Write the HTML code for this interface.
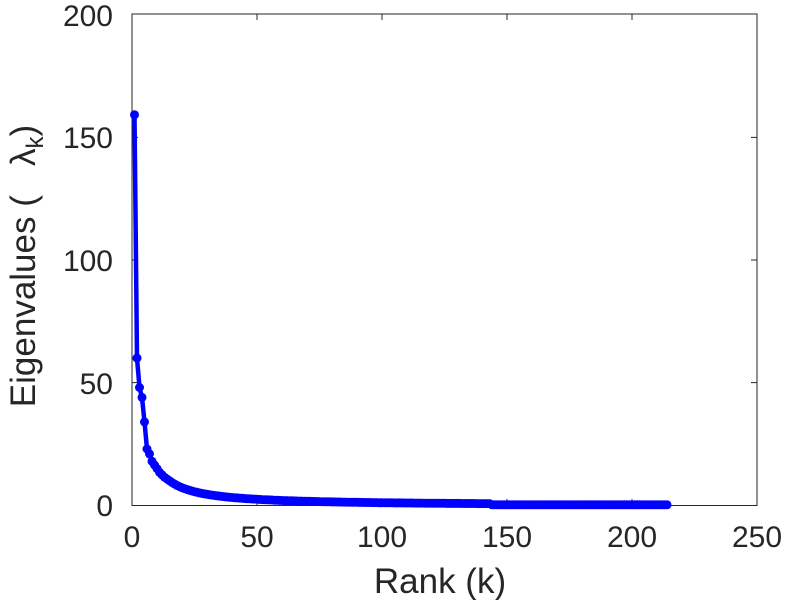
<!DOCTYPE html>
<html><head><meta charset="utf-8"><style>
body{margin:0;background:#fff;}
svg text{font-family:"Liberation Sans",sans-serif;fill:#262626;}
</style></head><body>
<svg id="s" width="792" height="600" xmlns="http://www.w3.org/2000/svg">
<rect x="132" y="14" width="625" height="491.5" fill="none" stroke="#262626" stroke-width="1"/>
<g stroke="#262626" stroke-width="1">
<line x1="257" y1="505.5" x2="257" y2="499"/><line x1="382" y1="505.5" x2="382" y2="499"/><line x1="507" y1="505.5" x2="507" y2="499"/><line x1="632" y1="505.5" x2="632" y2="499"/>
<line x1="257" y1="14" x2="257" y2="20"/><line x1="382" y1="14" x2="382" y2="20"/><line x1="507" y1="14" x2="507" y2="20"/><line x1="632" y1="14" x2="632" y2="20"/>
<line x1="132" y1="137.4" x2="138" y2="137.4"/><line x1="132" y1="260" x2="138" y2="260"/><line x1="132" y1="382.6" x2="138" y2="382.6"/>
<line x1="757" y1="137.4" x2="751" y2="137.4"/><line x1="757" y1="260" x2="751" y2="260"/><line x1="757" y1="382.6" x2="751" y2="382.6"/>
</g>
<g font-size="30" text-anchor="middle">
<text x="132" y="547">0</text><text x="257" y="547">50</text><text x="382" y="547">100</text><text x="507" y="547">150</text><text x="632" y="547">200</text><text x="757" y="547">250</text>
</g>
<text font-size="35" x="440" y="593" text-anchor="middle">Rank (k)</text>
<g font-size="30" text-anchor="end">
<text x="113" y="516">0</text><text x="113" y="394">50</text><text x="113" y="271">100</text><text x="113" y="148">150</text><text x="113" y="26">200</text>
</g>
<text font-size="35" transform="translate(35,266) rotate(-90)" text-anchor="middle">Eigenvalues (&#160;&#160;&#160;λ<tspan font-size="24" dy="8">k</tspan><tspan dy="-8">)</tspan></text>
<g id="d"></g>
</svg>
<script>
var v=[159,60,48,44,34,23,21,18,16.5,15,13.5,12.5,11.5,10.8,10.1];
for(var k=16;k<=214;k++){var y=10.1*Math.pow(15/k,1.15);if(k>143)y=Math.min(y,0.3);v.push(y);}
var pts=[],c='';
for(var i=0;i<v.length;i++){var x=132+(i+1)*2.5,y=505.5-v[i]*2.4575;pts.push(x.toFixed(1)+','+y.toFixed(1));c+='<circle cx="'+x.toFixed(1)+'" cy="'+y.toFixed(1)+'" r="4.5" fill="#0000ff"/>';}
document.getElementById('d').innerHTML='<polyline points="'+pts.join(' ')+'" fill="none" stroke="#0000ff" stroke-width="4.5"/>'+c;
</script>
</body></html>
